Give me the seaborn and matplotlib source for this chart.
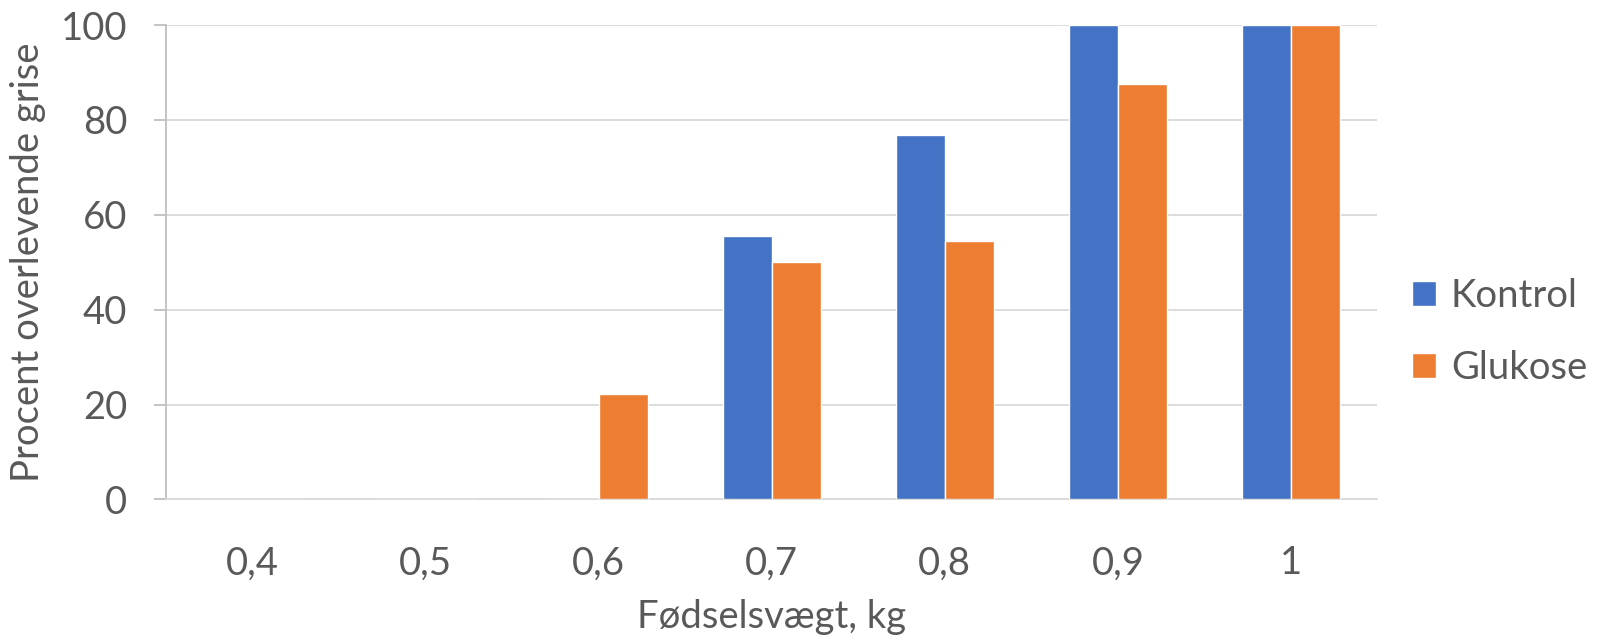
import pandas as pd
import matplotlib
matplotlib.use('Agg')
import matplotlib.pyplot as plt
import seaborn as sns


VAEGT = ['0,4', '0,5', '0,6', '0,7', '0,8', '0,9', '1']
KONTROL = [0, 0, 0, 55.6, 76.9, 100, 100]
GLUKOSE = [0, 0, 22.2, 50, 54.5, 87.5, 100]
SERIER = ['Kontrol', 'Glukose']
FARVER = ['#4472C4', '#ED7D31']
Y_TICKS = [0, 20, 40, 60, 80, 100]

GRAA_TEKST = '#595959'
GRAA_LINJE = '#D9D9D9'
STR = 27.5


def byg_data() -> pd.DataFrame:
    df = pd.DataFrame({'vaegt': VAEGT, 'Kontrol': KONTROL, 'Glukose': GLUKOSE})
    return df.melt(id_vars='vaegt', var_name='serie', value_name='procent')


def main():
    sns.set_theme(style='white')
    plt.rcParams['font.family'] = ['Lato', 'DejaVu Sans']

    df = byg_data()

    fig = plt.figure(figsize=(15.98, 6.35), dpi=100)
    ax = fig.add_axes([0.104, 0.2135, 0.758, 0.747])

    sns.barplot(
        data=df, x='vaegt', y='procent', hue='serie',
        order=VAEGT, hue_order=SERIER, palette=FARVER,
        width=0.57, saturation=1, ax=ax, zorder=3,
    )

    ax.set_ylim(0, 100)
    ax.set_yticks(Y_TICKS)
    ax.set_xlim(-0.5, len(VAEGT) - 0.5)
    ax.yaxis.grid(True, color=GRAA_LINJE, linewidth=1.3, zorder=0)
    ax.set_axisbelow(True)

    for side in ['top', 'right']:
        ax.spines[side].set_visible(False)
    ax.spines['left'].set_color('#BFBFBF')
    ax.spines['bottom'].set_color(GRAA_LINJE)
    ax.spines['left'].set_linewidth(1.3)
    ax.spines['bottom'].set_linewidth(1.3)

    ax.tick_params(axis='y', left=True, length=9, width=1.3, color='#BFBFBF',
                   labelsize=STR, labelcolor=GRAA_TEKST, pad=19)
    ax.tick_params(axis='x', bottom=False, labelsize=STR, labelcolor=GRAA_TEKST, pad=27)

    ax.set_xlabel('Fødselsvægt, kg', fontsize=STR, color=GRAA_TEKST, labelpad=13)
    ax.set_ylabel('Procent overlevende grise', fontsize=STR, color=GRAA_TEKST, labelpad=11)

    ax.legend(loc='center left', bbox_to_anchor=(1.0, 0.353), frameon=False,
              fontsize=STR, labelcolor=GRAA_TEKST, handlelength=0.62, handleheight=0.62,
              handletextpad=0.4, labelspacing=0.95, title=None)

    fig.savefig('out.png', dpi=100)
    plt.close(fig)


if __name__ == '__main__':
    main()
